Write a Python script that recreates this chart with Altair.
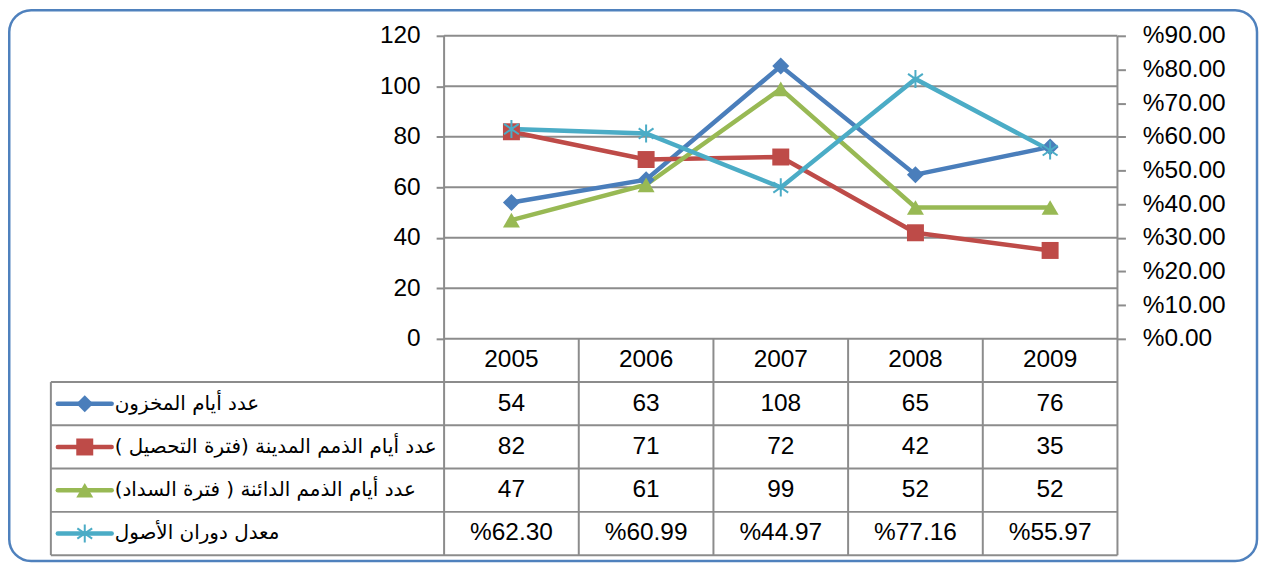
import altair as alt
import pandas as pd

# ---------------- data ----------------
years = ["2005", "2006", "2007", "2008", "2009"]
inventory_days = [54, 63, 108, 65, 76]
receivable_days = [82, 71, 72, 42, 35]
payable_days = [47, 61, 99, 52, 52]
asset_turnover = [62.30, 60.99, 44.97, 77.16, 55.97]  # percent, right axis

series_names = [
    "عدد أيام المخزون",
    "عدد أيام الذمم المدينة (فترة التحصيل )",
    "عدد أيام الذمم الدائنة ( فترة السداد)",
    "معدل دوران الأصول",
]
colors = ["#4A7EBB", "#BE4B48", "#98B954", "#4BACC6"]
shapes = ["diamond", "square", "triangle-up"]
ASTERISK = "M0,-1L0,1M-0.82,-0.57L0.82,0.57M-0.82,0.57L0.82,-0.57"

left_ticks = [0, 20, 40, 60, 80, 100, 120]
right_ticks = [0, 10, 20, 30, 40, 50, 60, 70, 80, 90]

# ---------------- layout constants ----------------
W, H = 1070, 521
PLOT_H = 304
X_MIN, X_MAX = -3.42, 4.5
FONT = "Liberation Sans"
AR_FONT = "DejaVu Sans"
FS = 24.5
GRID = "#8C8C8C"

xs = alt.Scale(domain=[X_MIN, X_MAX], nice=False, zero=False)
ys_left = alt.Scale(domain=[0, 120], range=[PLOT_H, 0], nice=False, zero=False)
ys_right = alt.Scale(domain=[0, 90], range=[PLOT_H, 0], nice=False, zero=False)
ys_row = alt.Scale(domain=[0, 5], range=[PLOT_H, H], nice=False, zero=False)

RLE, PDF = "\u202B", "\u202C"

# ---------------- tables ----------------
left_vals = [inventory_days, receivable_days, payable_days]
long_left = pd.DataFrame(
    [{"s": series_names[k], "i": i, "v": left_vals[k][i]} for k in range(3) for i in range(5)]
)
right_df = pd.DataFrame({"i": list(range(5)), "v": asset_turnover})

grid_df = pd.DataFrame({"g": left_ticks, "a": -0.5, "b": 4.5})
vlines_df = pd.DataFrame({"x": [-0.5, 4.5]})
colsep_df = pd.DataFrame({"x": [0.5, 1.5, 2.5, 3.5], "r0": 0, "r1": 5})
rowsep_df = pd.DataFrame({"r": [1, 2, 3, 4, 5], "a": X_MIN, "b": 4.5})
leftedge_df = pd.DataFrame({"r0": [1], "r1": [5]})

header_df = pd.DataFrame({"i": list(range(5)), "r": 0.5, "t": years})
cells = []
for k in range(3):
    for i in range(5):
        cells.append({"i": i, "r": k + 1.5, "t": str(left_vals[k][i])})
for i in range(5):
    cells.append({"i": i, "r": 4.5, "t": "%" + f"{asset_turnover[i]:.2f}"})
cells_df = pd.DataFrame(cells)

legend_df = pd.DataFrame({
    "s": series_names,
    "r": [1.5, 2.5, 3.5, 4.5],
    "t": [RLE + series_names[0] + PDF,
          RLE + series_names[1] + PDF,
          RLE + series_names[2] + PDF,
          "\u00a0" + RLE + series_names[3] + PDF],
})

frame_df = pd.DataFrame({"k": [0]})

color_enc = alt.Color("s:N", scale=alt.Scale(domain=series_names, range=colors), legend=None)

# ---------------- layers ----------------
frame = alt.Chart(frame_df).mark_rect(
    fill=None, stroke="#4F81BD", strokeWidth=2.5, cornerRadius=22
).encode(
    x=alt.value(-41.75), x2=alt.value(1210), y=alt.value(-25.75), y2=alt.value(527)
)

grid = alt.Chart(grid_df).mark_rule(color=GRID, strokeWidth=2).encode(
    x=alt.X("a:Q", scale=xs, axis=None), x2="b:Q",
    y=alt.Y("g:Q", scale=ys_left, axis=None),
)

vlines = alt.Chart(vlines_df).mark_rule(color=GRID, strokeWidth=2).encode(
    x=alt.X("x:Q", scale=xs, axis=None), y=alt.value(0), y2=alt.value(H)
)

colsep = alt.Chart(colsep_df).mark_rule(color=GRID, strokeWidth=2).encode(
    x=alt.X("x:Q", scale=xs, axis=None),
    y=alt.Y("r0:Q", scale=ys_row, axis=None), y2="r1:Q",
)

rowsep = alt.Chart(rowsep_df).mark_rule(color=GRID, strokeWidth=2).encode(
    x=alt.X("a:Q", scale=xs, axis=None), x2="b:Q",
    y=alt.Y("r:Q", scale=ys_row, axis=None),
)

leftedge = alt.Chart(leftedge_df).mark_rule(color=GRID, strokeWidth=2).encode(
    x=alt.value(0),
    y=alt.Y("r0:Q", scale=ys_row, axis=None), y2="r1:Q",
)

left_axis = alt.Axis(
    orient="left", values=left_ticks, offset=-394.5, domain=False, grid=False,
    tickSize=8, tickWidth=2, tickColor=GRID, labelPadding=16,
    labelFont=FONT, labelFontSize=FS, labelColor="#000000", title=None,
)
right_axis = alt.Axis(
    orient="right", values=right_ticks, domain=False, grid=False,
    tickSize=8, tickWidth=2, tickColor=GRID, labelPadding=17,
    labelFont=FONT, labelFontSize=FS, labelColor="#000000", title=None,
    labelExpr="'%' + format(datum.value, '.2f')",
)

lines_left = alt.Chart(long_left).mark_line(strokeWidth=4.5).encode(
    x=alt.X("i:Q", scale=xs, axis=None),
    y=alt.Y("v:Q", scale=ys_left, axis=left_axis),
    color=color_enc, detail="s:N",
)
points_left = alt.Chart(long_left).mark_point(filled=True, opacity=1, size=290).encode(
    x=alt.X("i:Q", scale=xs, axis=None),
    y=alt.Y("v:Q", scale=ys_left, axis=None),
    color=color_enc,
    shape=alt.Shape("s:N", scale=alt.Scale(domain=series_names[:3], range=shapes), legend=None),
)

line_right = alt.Chart(right_df).mark_line(strokeWidth=4.5, color=colors[3]).encode(
    x=alt.X("i:Q", scale=xs, axis=None),
    y=alt.Y("v:Q", scale=ys_right, axis=right_axis),
)
points_right = alt.Chart(right_df).mark_point(
    shape=ASTERISK, filled=False, strokeWidth=2, size=330, color=colors[3], opacity=1
).encode(
    x=alt.X("i:Q", scale=xs, axis=None),
    y=alt.Y("v:Q", scale=ys_right, axis=None),
)

header = alt.Chart(header_df).mark_text(font=FONT, fontSize=FS, color="#000000", baseline="middle").encode(
    x=alt.X("i:Q", scale=xs, axis=None),
    y=alt.Y("r:Q", scale=ys_row, axis=None),
    text="t:N",
)
cell_text = alt.Chart(cells_df).mark_text(font=FONT, fontSize=FS, color="#000000", baseline="middle").encode(
    x=alt.X("i:Q", scale=xs, axis=None),
    y=alt.Y("r:Q", scale=ys_row, axis=None),
    text="t:N",
)

legend_lines = alt.Chart(legend_df).mark_rule(strokeWidth=4.5, strokeCap="round").encode(
    x=alt.value(7), x2=alt.value(61),
    y=alt.Y("r:Q", scale=ys_row, axis=None),
    color=color_enc,
)
legend_pts = alt.Chart(legend_df.iloc[:3]).mark_point(filled=True, opacity=1, size=290).encode(
    x=alt.value(34),
    y=alt.Y("r:Q", scale=ys_row, axis=None),
    color=color_enc,
    shape=alt.Shape("s:N", scale=alt.Scale(domain=series_names[:3], range=shapes), legend=None),
)
legend_ast = alt.Chart(legend_df.iloc[3:]).mark_point(
    shape=ASTERISK, filled=False, strokeWidth=2, size=330, color=colors[3], opacity=1
).encode(
    x=alt.value(34),
    y=alt.Y("r:Q", scale=ys_row, axis=None),
)
legend_text = alt.Chart(legend_df).mark_text(
    font=AR_FONT, fontSize=20, color="#000000", align="left", baseline="middle"
).encode(
    x=alt.value(64),
    y=alt.Y("r:Q", scale=ys_row, axis=None),
    text="t:N",
)

chart = alt.layer(
    frame, grid, vlines, colsep, rowsep, leftedge,
    lines_left, line_right, points_left, points_right,
    header, cell_text, legend_lines, legend_pts, legend_ast, legend_text,
).resolve_scale(y="independent").resolve_axis(y="independent").properties(
    width=W, height=H, padding=0, background="#FFFFFF"
).configure_view(stroke=None)

chart.save("out.html", embed_options={"renderer": "svg", "actions": False})
